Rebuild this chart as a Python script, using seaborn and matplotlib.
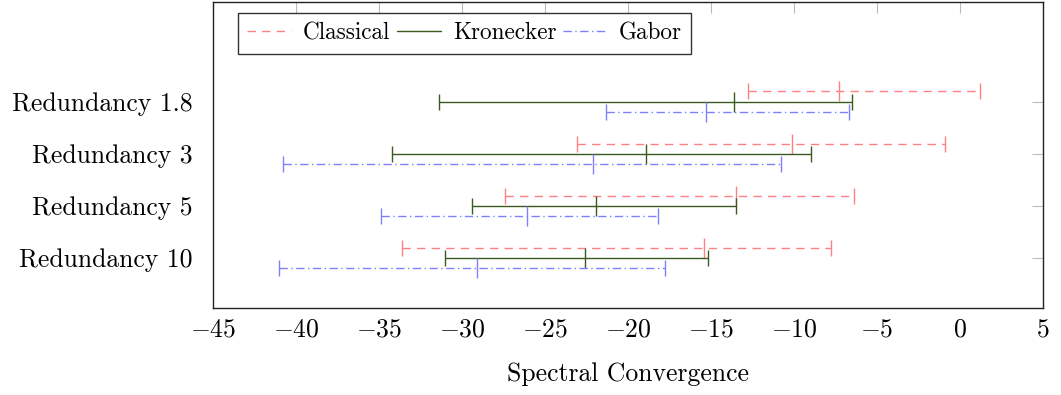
import numpy as np
import pandas as pd
import seaborn as sns
import matplotlib.pyplot as plt
from matplotlib.lines import Line2D

# === Data (min / mean / max spectral convergence) ===
categories = ["Redundancy 10", "Redundancy 5", "Redundancy 3", "Redundancy 1.8"]

classical_min = [-33.6, -27.4, -23.1, -12.8]
classical_mean = [-15.4, -13.5, -10.1, -7.3]
classical_max = [-7.8, -6.4, -0.9, 1.2]

kronecker_min = [-31.0, -29.4, -34.2, -31.4]
kronecker_mean = [-22.6, -21.9, -18.9, -13.6]
kronecker_max = [-15.2, -13.5, -9.0, -6.5]

gabor_min = [-41.0, -34.9, -40.8, -21.3]
gabor_mean = [-29.1, -26.1, -22.1, -15.3]
gabor_max = [-17.8, -18.2, -10.8, -6.7]

series_names = ["Classical", "Kronecker", "Gabor"]

# === Build a long table ===
rows = []
for name, lo, mid, hi in [
    ("Classical", classical_min, classical_mean, classical_max),
    ("Kronecker", kronecker_min, kronecker_mean, kronecker_max),
    ("Gabor", gabor_min, gabor_mean, gabor_max),
]:
    for i, cat in enumerate(categories):
        rows.append({"series": name, "category": cat, "pos": i,
                     "lo": lo[i], "mean": mid[i], "hi": hi[i]})
df = pd.DataFrame(rows)

# === Styles ===
styles = {
    "Classical": dict(color="#ff8080", offset=0.2, dashes=(6, 4.5)),
    "Kronecker": dict(color="#3b5a1e", offset=0.0, dashes=None),
    "Gabor": dict(color="#8080ff", offset=-0.2, dashes=(6, 2.5, 1, 2.5)),
}

sns.set_style("white")
plt.rcParams["font.family"] = ["cmr10", "DejaVu Serif"]
plt.rcParams["mathtext.fontset"] = "cm"
plt.rcParams["axes.formatter.use_mathtext"] = True
plt.rcParams["text.color"] = "black"
plt.rcParams["xtick.labelcolor"] = "black"
plt.rcParams["ytick.labelcolor"] = "black"
plt.rcParams["axes.labelcolor"] = "black"

fig = plt.figure(figsize=(10.61, 3.95), dpi=100)
ax = fig.add_axes([0.2008, 0.2203, 0.7822, 0.7747])

handles = []
for name in series_names:
    st = styles[name]
    d = df[df["series"] == name]
    y = d["pos"] + st["offset"]
    eb = ax.errorbar(d["mean"], y,
                     xerr=[d["mean"] - d["lo"], d["hi"] - d["mean"]],
                     fmt="none", ecolor=st["color"], elinewidth=1.0,
                     capsize=6, capthick=1.0)
    if st["dashes"] is not None:
        eb[2][0].set_linestyle((0, st["dashes"]))
    ax.plot(d["mean"], y, ls="none", marker="|", ms=14, mew=1.0,
            color=st["color"])
    h = Line2D([], [], color=st["color"], lw=1.0)
    if st["dashes"] is not None:
        h.set_dashes(st["dashes"])
    handles.append(h)

ax.set_xlim(-45, 5)
ax.set_ylim(-0.96, 4.92)
ax.set_xticks(np.arange(-45, 6, 5))
ax.set_yticks(range(len(categories)))
ax.set_yticklabels(categories)
ax.tick_params(axis="both", labelsize=18.5, direction="in", length=8,
               width=0.8, color="#bbbbbb", top=True, right=True,
               labelbottom=True, labelleft=True, labelcolor="black")
ax.tick_params(axis="x", pad=7)
ax.tick_params(axis="y", pad=15)
for s in ax.spines.values():
    s.set_color("#222222")
    s.set_linewidth(1.0)

ax.set_xlabel("Spectral Convergence", fontsize=18.5, labelpad=15,
              color="black")

leg = ax.legend(handles, series_names, loc="upper left",
                bbox_to_anchor=(0.030, 0.964), borderaxespad=0,
                ncol=3, fontsize=16.7, frameon=True, fancybox=False,
                handlelength=1.9, handletextpad=0.5, columnspacing=0.3,
                borderpad=0.4)
leg.get_frame().set_edgecolor("black")
leg.get_frame().set_linewidth(1.0)
for t in leg.get_texts():
    t.set_color("black")

plt.savefig("out.png", dpi=100)
plt.close()
